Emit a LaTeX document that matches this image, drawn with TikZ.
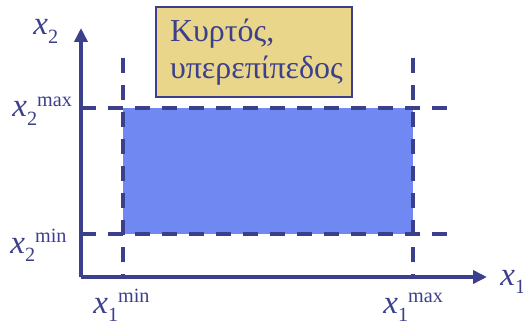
\documentclass[tikz,border=0pt]{standalone}
\usepackage{fontspec}
\setmainfont{Liberation Serif}
\usetikzlibrary{arrows.meta}

\definecolor{linecol}{RGB}{60,64,140}
\definecolor{areacol}{RGB}{111,136,242}
\definecolor{boxcol}{RGB}{233,214,139}

\tikzset{every node/.style={font=\fontsize{18.8}{21}\selectfont, text=linecol, inner sep=0pt}}
\tikzset{guide/.style={line width=2pt, linecol, dash pattern=on 0.3cm off 0.24cm}}

% x with index and bound, written side by side
\newcommand{\xlab}[2]{\textit{x}\raisebox{-0.25em}{\fontsize{11.5}{12}\selectfont #1}\raisebox{0.33em}{\fontsize{11.5}{12}\selectfont #2}}

\begin{document}
\begin{tikzpicture}[>={Triangle[length=0.28cm, width=0.26cm]}]
  % Bounding box fixe
  \path[use as bounding box] (0,0) rectangle (10.46,6.58);

  % Bounds.
  \coordinate (O) at (1.62,1.04);
  \coordinate (X) at (9.74,1.04);
  \coordinate (Y) at (1.62,6.02);
  \coordinate (A) at (2.46,1.9);
  \coordinate (B) at (8.26,4.42);

  % Feasible region.
  \fill[areacol] (A) rectangle (B);

  % Dashed bounds.
  \draw[guide] (2.46,5.42) -- (2.46,1.04);
  \draw[guide] (8.26,5.42) -- (8.26,1.04);
  \draw[guide] (1.62,4.42) -- (8.94,4.42);
  \draw[guide] (1.62,1.9) -- (8.94,1.9);

  % Axes.
  \draw[->, line width=2.2pt, linecol] (O) -- (X);
  \draw[->, line width=2.2pt, linecol] (O) -- (Y);

  % Labels.
  \node[anchor=base west] (x1) at (10.0,0.88) {\xlab{1}{}};
  \node[anchor=base west] (x2) at (0.66,5.88) {\xlab{2}{}};
  \node[anchor=base west] (x1min) at (1.86,0.32) {\xlab{1}{min}};
  \node[anchor=base west] (x1max) at (7.66,0.32) {\xlab{1}{max}};
  \node[anchor=base west] (x2min) at (0.2,1.52) {\xlab{2}{min}};
  \node[anchor=base west] (x2max) at (0.24,4.24) {\xlab{2}{max}};

  % Caption box.
  \node[draw=linecol, line width=0.8pt, fill=boxcol, minimum width=3.92cm, minimum height=1.8cm,
        text width=3.36cm, inner xsep=0.28cm, align=left, font=\fontsize{18.2}{21}\selectfont] (box) at (5.08,5.54)
    {Κυρτός,\\υπερεπίπεδος};
\end{tikzpicture}
\end{document}
